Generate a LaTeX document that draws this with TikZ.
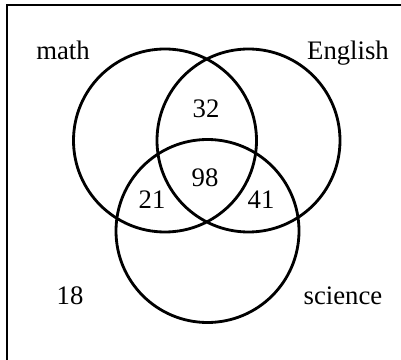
\documentclass[tikz,border=0pt]{standalone}
\usepackage{fontspec}
\setmainfont{Liberation Serif}
\usetikzlibrary{positioning}
\tikzset{
  set circle/.style={draw,line width=2pt},
  set label/.style={anchor=base,font=\fontsize{19}{21}\selectfont,inner sep=0pt},
  frame edge/.style={line width=1.5pt},
}

\begin{document}
\begin{tikzpicture}[x=0.025cm,y=-0.025cm]
  \useasboundingbox (0,0) rectangle (401,360);
  % frame (cut off at right and bottom)
  \coordinate (fbl) at (7,360);
  \coordinate (ftl) at (7,5);
  \coordinate (ftr) at (401,5);
  \draw[frame edge] (fbl) -- (ftl) -- (ftr);
  % sets
  \draw[set circle] (165,140.5) circle (91.5);
  \draw[set circle] (248.5,140.5) circle (91.5);
  \draw[set circle] (207.5,231) circle (91.5);
  % labels
  \node[set label] (lmath) at (63,60) {math};
  \node[set label] (leng) at (348,60) {English};
  \node[set label] (lsci) at (343,304) {science};
  \node[set label] (n32) at (206,118) {32};
  \node[set label] (n98) at (205,187) {98};
  \node[set label] (n21) at (152,208) {21};
  \node[set label] (n41) at (261,208) {41};
  \node[set label] (n18) at (70,304) {18};
\end{tikzpicture}
\end{document}
